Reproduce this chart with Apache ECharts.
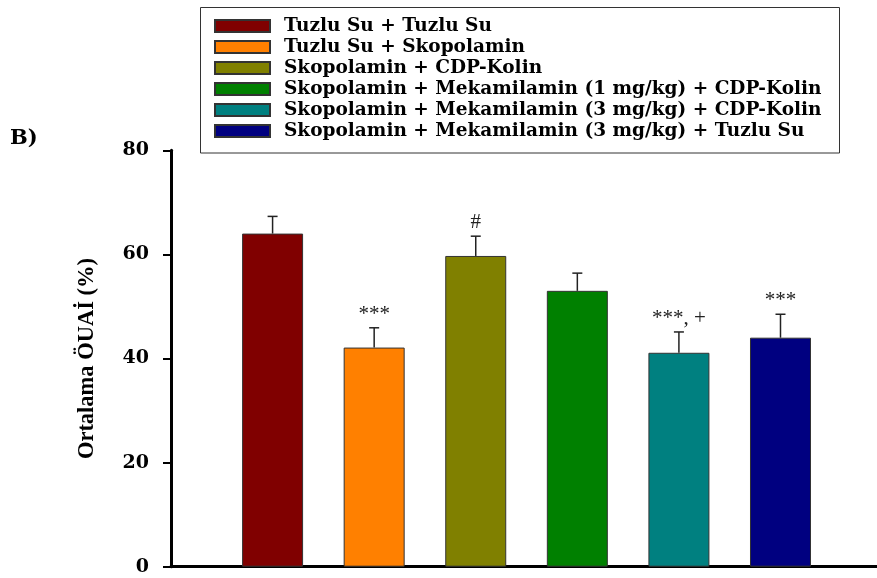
<!DOCTYPE html>
<html>
<head>
<meta charset="utf-8">
<script src="https://cdn.jsdelivr.net/npm/echarts@6/dist/echarts.min.js"></script>
<style>
  html, body { margin: 0; padding: 0; background: #fff; }
  #chart { width: 877px; height: 578px; }
</style>
</head>
<body>
<div id="chart"></div>
<script>
// Group names (legend order = bar order)
const groups = [
  'Tuzlu Su + Tuzlu Su',
  'Tuzlu Su + Skopolamin',
  'Skopolamin + CDP-Kolin',
  'Skopolamin + Mekamilamin (1 mg/kg) + CDP-Kolin',
  'Skopolamin + Mekamilamin (3 mg/kg) + CDP-Kolin',
  'Skopolamin + Mekamilamin (3 mg/kg) + Tuzlu Su'
];
// Mean values and standard errors (%)
const means = [64.0, 42.1, 59.7, 53.0, 41.1, 44.0];
const sems = [3.3, 3.8, 3.8, 3.4, 4.0, 4.5];
// Significance marks drawn above the error bars
const marks = ['', '***', '#', '', '***, +', '***'];
const colors = ['#800000', '#ff8000', '#808000', '#008000', '#008080', '#000080'];
const yTicks = [0, 20, 40, 60, 80];

const serif = '"Liberation Serif", "Times New Roman", serif';
const wideSerif = '"DejaVu Serif", "Liberation Serif", serif';

// Groups sit at positions 1..6 on a plain numeric x scale
const positions = groups.map((g, i) => i + 1);

const barSeries = groups.map((g, i) => ({
  name: g,
  type: 'bar',
  barWidth: 61,
  barGap: '-100%',
  itemStyle: { color: colors[i], borderColor: '#333', borderWidth: 1 },
  data: [[positions[i], means[i]]],
  animation: false
}));

const errorSeries = {
  type: 'custom',
  name: 'SEM',
  animation: false,
  z: 5,
  data: groups.map((g, i) => [positions[i], means[i], sems[i], marks[i]]),
  renderItem: function (params, api) {
    const x = api.value(0);
    const base = api.coord([x, api.value(1)]);
    const top = api.coord([x, api.value(1) + api.value(2)]);
    const half = 5;
    const style = { stroke: '#222', lineWidth: 1.5 };
    const children = [
      { type: 'line', shape: { x1: base[0], y1: base[1], x2: top[0], y2: top[1] }, style: style },
      { type: 'line', shape: { x1: top[0] - half, y1: top[1], x2: top[0] + half, y2: top[1] }, style: style }
    ];
    const txt = api.value(3);
    if (txt) {
      children.push({
        type: 'text',
        style: {
          text: txt,
          x: top[0],
          y: top[1] - 3,
          align: 'center',
          verticalAlign: 'bottom',
          font: '21px ' + serif,
          fill: '#222'
        }
      });
    }
    return { type: 'group', children: children };
  }
};

const chart = echarts.init(document.getElementById('chart'), null, { renderer: 'canvas' });
chart.setOption({
  backgroundColor: '#fff',
  animation: false,
  grid: { left: 171, right: 0, top: 150.3, bottom: 11.3, containLabel: false },
  graphic: [
    {
      type: 'rect',
      shape: { x: 200.5, y: 7.5, width: 639, height: 145.5 },
      style: { fill: '#fff', stroke: '#333', lineWidth: 1 },
      z: 0
    },
    {
      type: 'text',
      left: 10,
      top: 128,
      style: { text: 'B)', font: 'bold 21px ' + wideSerif, fill: '#000' }
    }
  ],
  legend: {
    data: groups,
    orient: 'vertical',
    left: 214,
    top: 15.5,
    padding: 0,
    itemGap: 0,
    itemWidth: 55,
    itemHeight: 12,
    icon: 'rect',
    selectedMode: false,
    textStyle: {
      fontFamily: wideSerif,
      fontWeight: 'bold',
      fontSize: 18.5,
      color: '#000',
      lineHeight: 21,
      padding: [0, 0, 0, 9]
    },
    z: 3
  },
  xAxis: {
    type: 'value',
    min: 0,
    max: 6.95,
    axisLine: { show: true, onZero: false, lineStyle: { color: '#000', width: 3 } },
    axisTick: { show: false },
    axisLabel: { show: false },
    splitLine: { show: false }
  },
  yAxis: {
    type: 'value',
    min: yTicks[0],
    max: yTicks[yTicks.length - 1],
    interval: 20,
    name: 'Ortalama ÖUAİ (%)',
    nameLocation: 'middle',
    nameRotate: 90,
    nameGap: 72,
    nameTextStyle: { fontFamily: serif, fontWeight: 'bold', fontSize: 22.5, color: '#000' },
    axisLine: { show: true, onZero: false, lineStyle: { color: '#000', width: 3 } },
    axisTick: { show: true, length: 8, lineStyle: { color: '#000', width: 2 } },
    axisLabel: {
      margin: 22,
      fontFamily: wideSerif,
      fontWeight: 'bold',
      fontSize: 19,
      color: '#000',
      formatter: v => (yTicks.indexOf(v) >= 0 ? String(v) : '')
    },
    splitLine: { show: false }
  },
  series: barSeries.concat([errorSeries])
});
</script>
</body>
</html>
